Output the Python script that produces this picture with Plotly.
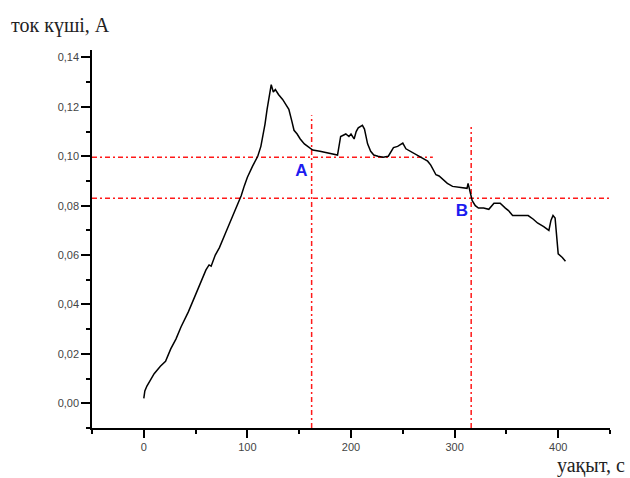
import plotly.graph_objects as go

# time, s
time_s = [0, 1, 3, 6, 10, 16, 21, 26, 31, 36, 43, 50, 55, 60, 63, 65, 69, 73, 79, 85,
          90, 94, 97, 100, 105, 110, 113, 115, 117, 119, 121, 123, 125, 127, 130, 134,
          137, 140, 143, 145, 148, 151, 155, 158, 161, 163, 170, 180, 185, 187, 190, 195,
          198, 200, 203, 205, 207, 211, 213, 216, 219, 222, 226, 231, 236, 241, 245, 250,
          253, 255, 260, 264, 270, 274, 277, 282, 285, 288, 293, 298, 303, 308, 312, 313,
          315, 317, 320, 323, 328, 333, 338, 344, 349, 352, 356, 365, 371, 376, 380, 386,
          391, 393, 395, 397, 399, 400, 404, 407]
# current, A
current_a = [0.002, 0.005, 0.007, 0.009, 0.012, 0.015, 0.017, 0.022, 0.026, 0.031, 0.037,
             0.044, 0.049, 0.054, 0.056, 0.0555, 0.060, 0.063, 0.069, 0.075, 0.080, 0.084,
             0.088, 0.0915, 0.096, 0.100, 0.104, 0.108, 0.113, 0.119, 0.124, 0.129, 0.126,
             0.127, 0.125, 0.123, 0.121, 0.119, 0.114, 0.1105, 0.109, 0.107, 0.105, 0.104,
             0.103, 0.1025, 0.102, 0.101, 0.1005, 0.1005, 0.108, 0.109, 0.108, 0.109, 0.107,
             0.110, 0.1115, 0.1125, 0.111, 0.105, 0.102, 0.1005, 0.100, 0.0996, 0.100,
             0.1035, 0.104, 0.1053, 0.103, 0.1025, 0.1015, 0.1005, 0.099, 0.098, 0.0964,
             0.0925, 0.092, 0.091, 0.089, 0.0878, 0.0875, 0.087, 0.087, 0.089, 0.085, 0.082,
             0.080, 0.079, 0.079, 0.0785, 0.081, 0.081, 0.079, 0.078, 0.076, 0.076, 0.076,
             0.0745, 0.073, 0.0715, 0.070, 0.074, 0.076, 0.075, 0.066, 0.0605, 0.059, 0.0575]

# reference lines
h_levels = [0.0996, 0.083]
h_ends = [279, 450]
v_positions = [162, 316]
v_tops = [0.1166, 0.1118]
point_labels = ["A", "B"]
label_x = [152, 307]
label_y = [0.0936, 0.0774]

x_ticks = [0, 100, 200, 300, 400]
y_ticks = [0.0, 0.02, 0.04, 0.06, 0.08, 0.10, 0.12, 0.14]
x_range = [-50, 450]
y_range = [-0.01, 0.143]

fig = go.Figure()

red_dash = "5px,3px,2px,3px"
for lvl, end in zip(h_levels, h_ends):
    fig.add_trace(go.Scatter(x=[x_range[0], end], y=[lvl, lvl], mode="lines",
                             line=dict(color="#ff1a1a", width=1.5, dash=red_dash),
                             hoverinfo="skip", showlegend=False))
for xv, top in zip(v_positions, v_tops):
    fig.add_trace(go.Scatter(x=[xv, xv], y=[y_range[0], top], mode="lines",
                             line=dict(color="#ff1a1a", width=1.5, dash=red_dash),
                             hoverinfo="skip", showlegend=False))

fig.add_trace(go.Scatter(x=time_s, y=current_a, mode="lines",
                         line=dict(color="black", width=1.5), showlegend=False))

fig.add_trace(go.Scatter(x=label_x, y=label_y, mode="text", text=point_labels,
                         textfont=dict(family="Liberation Sans", size=17, color="#1c1cf0"),
                         texttemplate="<b>%{text}</b>", showlegend=False))

fig.update_layout(
    width=630, height=478,
    margin=dict(l=92, r=20, t=50, b=50),
    paper_bgcolor="white", plot_bgcolor="white",
    separators=", ",
    font=dict(family="Liberation Sans", size=11, color="#444444"),
    annotations=[
        dict(text="ток күші, А", xref="paper", yref="paper", x=-0.160, y=1.066,
             xanchor="left", yanchor="middle", showarrow=False,
             font=dict(family="Liberation Serif", size=20, color="#222222")),
        dict(text="уақыт, с", xref="paper", yref="paper", x=1.033, y=-0.098,
             xanchor="right", yanchor="middle", showarrow=False,
             font=dict(family="Liberation Serif", size=20, color="#222222")),
    ],
)
fig.update_xaxes(range=x_range, tickvals=x_ticks, showgrid=False, zeroline=False,
                 showline=True, linecolor="black", linewidth=1.5,
                 ticks="outside", ticklen=8, tickwidth=1.5, tickcolor="black",
                 minor=dict(dtick=50, tick0=-50, ticks="outside", ticklen=4,
                            tickwidth=1.5, tickcolor="black", showgrid=False))
fig.update_yaxes(range=y_range, tickvals=y_ticks, tickformat=".2f", showgrid=False,
                 zeroline=False, showline=True, linecolor="black", linewidth=1.5,
                 ticks="outside", ticklen=9, tickwidth=1.5, tickcolor="black",
                 minor=dict(dtick=0.01, tick0=0, ticks="outside", ticklen=4,
                            tickwidth=1.5, tickcolor="black", showgrid=False))

fig.write_html("out.html", config={"displayModeBar": False},
               post_script="document.body.style.margin='0';document.body.style.overflow='hidden';")
